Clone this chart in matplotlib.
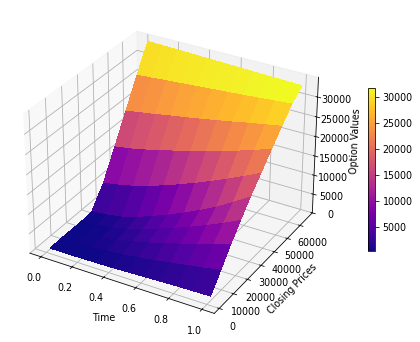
import matplotlib
matplotlib.use('Agg')
import matplotlib.pyplot as plt
import numpy as np

times = [0.0, 0.1, 0.2, 0.3, 0.4, 0.5, 0.6, 0.7, 0.8, 0.9, 1.0]
# closing price grid is wider at time 0 than at time 1
prices_start = [2500, 9300, 16000, 22800, 29600, 37800, 46000, 54000, 62000, 70000]
prices_end = [2500, 9300, 16000, 22800, 29600, 37000, 44400, 51800, 59200, 66600]

# option value per closing price (rows), per time (columns)
values = [
    [200, 200, 250, 300, 400, 550, 700, 850, 1000, 1100, 1200],
    [400, 500, 600, 900, 1300, 1800, 2400, 3100, 3800, 4500, 5200],
    [300, 400, 800, 1400, 2300, 3300, 4500, 5600, 6800, 8000, 9300],
    [300, 500, 1000, 2000, 3200, 4600, 6000, 7600, 9300, 11100, 13100],
    [600, 900, 1600, 2800, 4300, 5900, 7700, 9600, 11700, 14100, 16700],
    [5500, 6200, 7100, 8300, 9700, 11200, 12800, 14500, 16300, 18200, 20200],
    [12500, 13200, 14100, 15100, 16200, 17300, 18500, 19800, 21000, 22400, 23800],
    [19500, 20200, 20900, 21700, 22400, 23200, 24000, 24800, 25700, 26500, 27300],
    [26500, 26900, 27300, 27700, 28100, 28500, 28900, 29300, 29700, 30200, 30600],
    [33000, 33000, 33000, 33000, 33000, 33000, 33000, 33000, 33000, 33000, 33000],
]

T = np.array([times] * len(prices_end), dtype=float)
S = np.outer(prices_start, 1 - T[0]) + np.outer(prices_end, T[0])
V = np.array(values, dtype=float)

fig = plt.figure(figsize=(420 / 72, 342 / 72), dpi=72)
ax = fig.add_axes([-0.027, 0.023, 0.86, 0.96], projection='3d')
surf = ax.plot_surface(T, S, V, cmap='plasma', linewidth=0, antialiased=False)
ax.set_ylim(-3330, 69930)
ax.set_zlim(0, 34900)
ax.set_xlabel('Time', fontsize=9.5)
ax.set_ylabel('Closing Prices', fontsize=9.5)
ax.set_zlabel('Option Values', fontsize=9.5)
ax.tick_params(labelsize=9.5)
ax.set_yticks([0, 10000, 20000, 30000, 40000, 50000, 60000])
ax.set_zticks([0, 5000, 10000, 15000, 20000, 25000, 30000])
cax = fig.add_axes([0.875, 0.266, 0.019, 0.477])
cb = fig.colorbar(surf, cax=cax)
cb.ax.tick_params(labelsize=9.5)
cb.set_ticks([5000, 10000, 15000, 20000, 25000, 30000])
fig.savefig('out.png', dpi=72)
